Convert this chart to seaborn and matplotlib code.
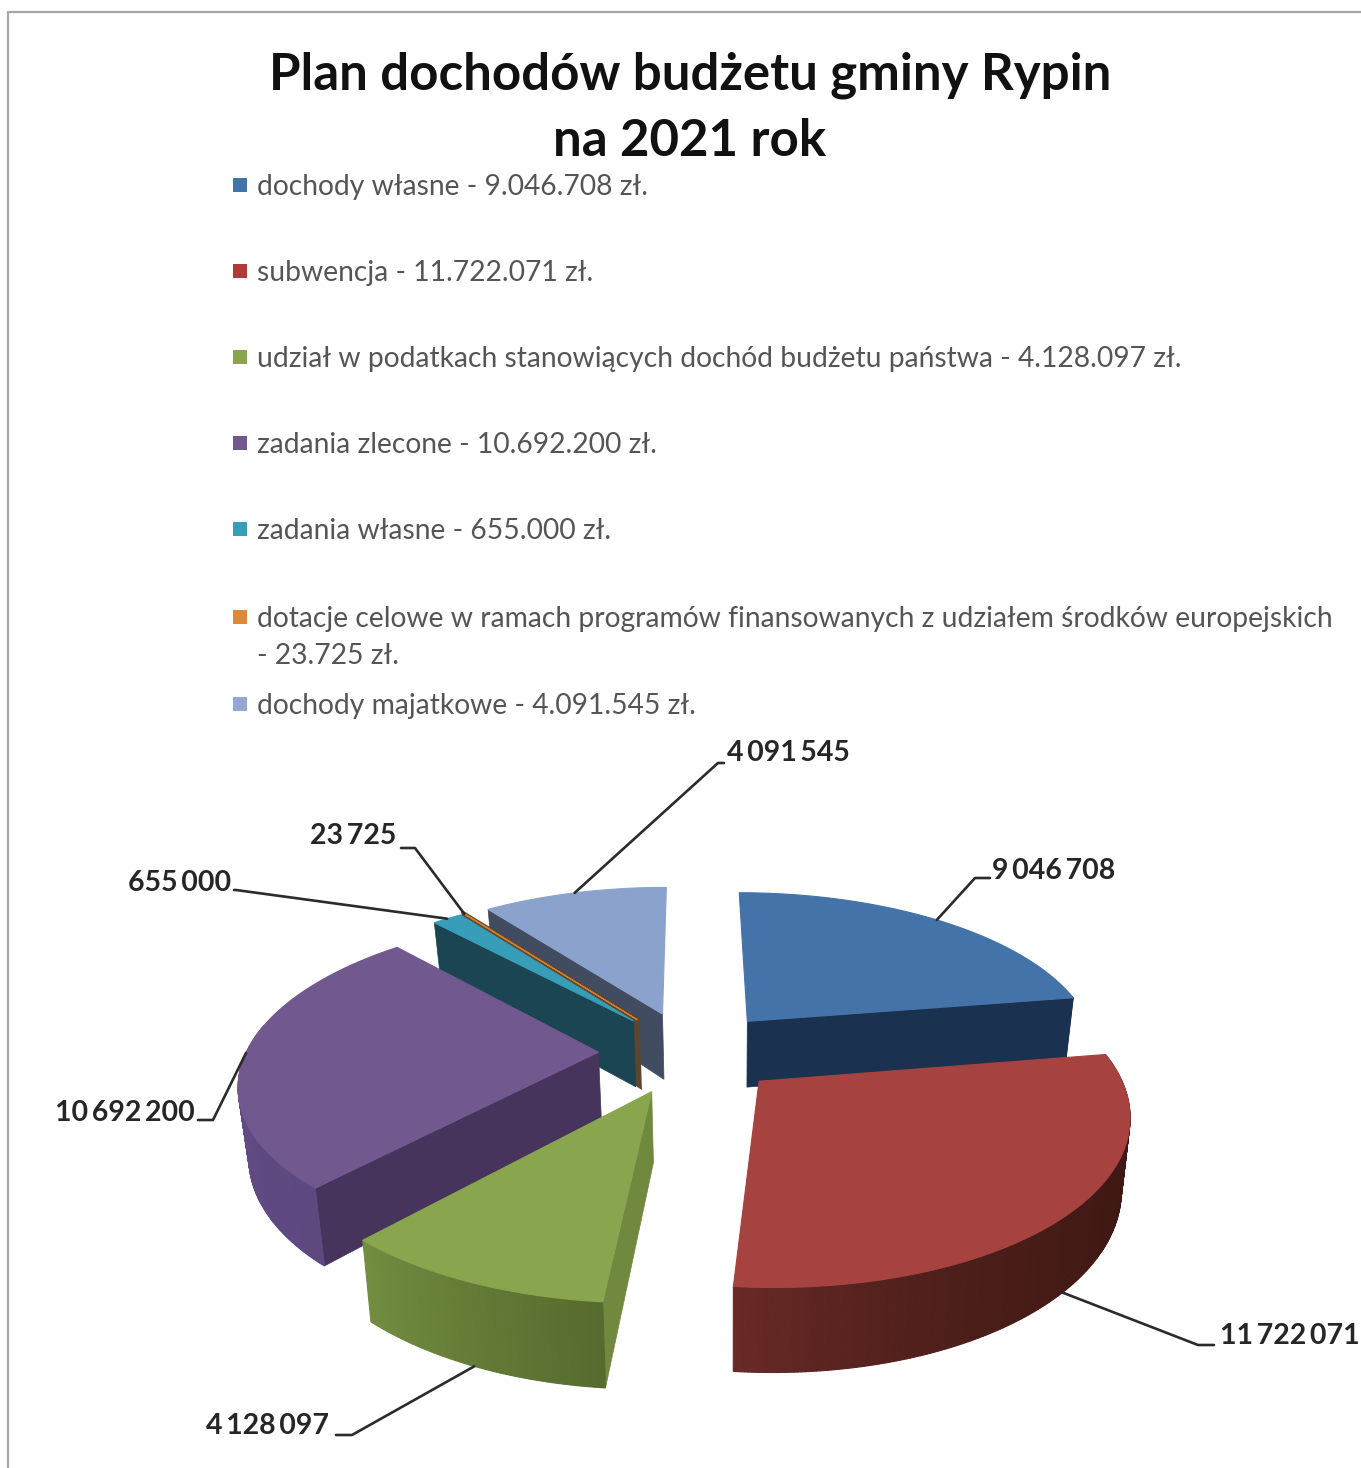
import numpy as np
import pandas as pd
import matplotlib
matplotlib.use("Agg")
import matplotlib.pyplot as plt
import seaborn as sns

# -----------------------------
# DATA
# -----------------------------
title_lines = ["Plan dochodów budżetu gminy Rypin", "na 2021 rok"]
names = [
    "dochody własne",
    "subwencja",
    "udział w podatkach stanowiących dochód budżetu państwa",
    "zadania zlecone",
    "zadania własne",
    "dotacje celowe w ramach programów finansowanych z udziałem środków europejskich",
    "dochody majatkowe",
]
values = [9046708, 11722071, 4128097, 10692200, 655000, 23725, 4091545]

# -----------------------------
# STYLE
# -----------------------------
top_colors = ["#4473a9", "#a64340", "#89a54e", "#71588f", "#379db8", "#d4802a", "#8ba2cc"]
legend_colors = ["#4473a9", "#b03c3a", "#89a54e", "#71588f", "#379db8", "#dc8a3a", "#92a8d2"]
wall_colors = ["#1b3150", "#461a15", "#71893f", "#46345c", "#1b4552", "#5e4530", "#414c61"]
# outer rim shade at start and end of each slice
rim_colors = [
    ("#1b3150", "#1b3150"),
    ("#3f1813", "#682a27"),
    ("#566b2e", "#728c40"),
    ("#5d4880", "#68508c"),
    ("#1b4552", "#1b4552"),
    ("#5e4530", "#5e4530"),
    ("#414c61", "#414c61"),
]
rim_curve = [1, 3, 1, 1, 1, 1, 1]

# back to front
draw_order = [6, 5, 4, 0, 3, 2, 1]

center_x, center_y = 690, 1052
radius_x, radius_y = 352, 160
persp = 0.17
explode = 0.26
depth = 68
vanish_x = 730
vanish = 0.022

# label centre, elbow points of the leader line
label_pos = [(1054, 871), (1290, 1336), (268, 1426), (125, 1113), (180, 883), (353, 836), (788, 753)]
elbows = [
    [(975, 878), (990, 878)],
    [(1198, 1345), (1214, 1345)],
    [(352, 1435), (336, 1435)],
    [(213, 1120), (198, 1120)],
    [(236, 890), (234, 890)],
    [(415, 848), (401, 848)],
    [(718, 763), (724, 763)],
]
leader_on_rim = [False, True, True, False, False, False, False]

sns.set_theme(style="white")
plt.rcParams["font.family"] = ["Lato", "DejaVu Sans"]

fig, ax = plt.subplots(figsize=(13.61, 14.68), dpi=100)
ax.set_position([0, 0, 1, 1])
ax.set_xlim(0, 1361)
ax.set_ylim(1468, 0)
ax.axis("off")


def project(u, v, lift=0.0):
    w = 1 + persp * v
    x = center_x + radius_x * u / w
    y = center_y - radius_y * v / w + lift / w
    if lift:
        x = x + (vanish_x - x) * vanish
    return x, y


# -----------------------------
# PIE SLICES
# -----------------------------
total = sum(values)
shares = np.array(values) / total * 360
ends = np.cumsum(shares)
starts = ends - shares
mids = (starts + ends) / 2

for i in draw_order:
    th = np.radians(np.linspace(starts[i], ends[i], max(int(shares[i]) * 2, 4)))
    m = np.radians(mids[i])
    ox, oy = explode * np.sin(m), explode * np.cos(m)
    us, vs = ox + np.sin(th), oy + np.cos(th)
    ax_, ay_ = project(ox, oy)
    bx_, by_ = project(ox, oy, depth)
    top_x, top_y = project(us, vs)
    low_x, low_y = project(us, vs, depth)

    # radial walls, only the ones that face the viewer
    wall_lw = 3.5 if shares[i] < 1 else 0.5
    if ends[i] <= 180:
        ax.fill([ax_, top_x[-1], low_x[-1], bx_], [ay_, top_y[-1], low_y[-1], by_],
                color=wall_colors[i], lw=wall_lw)
    if starts[i] >= 180:
        ax.fill([ax_, top_x[0], low_x[0], bx_], [ay_, top_y[0], low_y[0], by_],
                color=wall_colors[i], lw=wall_lw)

    # outer rim in small strips so the shade can drift along the arc
    c0 = np.array(matplotlib.colors.to_rgb(rim_colors[i][0]))
    c1 = np.array(matplotlib.colors.to_rgb(rim_colors[i][1]))
    n = len(th) - 1
    for k in range(n):
        if np.cos(th[k]) > 0.17 and np.cos(th[k + 1]) > 0.17:
            continue
        col = c0 + (c1 - c0) * (k / max(n - 1, 1)) ** rim_curve[i]
        ax.fill([top_x[k], top_x[k + 1], low_x[k + 1], low_x[k]],
                [top_y[k], top_y[k + 1], low_y[k + 1], low_y[k]],
                color=col, lw=0.8)

    # top face
    ax.fill(np.r_[ax_, top_x], np.r_[ay_, top_y], color=top_colors[i], lw=0.8)

# -----------------------------
# LEADER LINES + VALUE LABELS
# -----------------------------
for i in range(len(values)):
    m = np.radians(mids[i])
    ox, oy = explode * np.sin(m), explode * np.cos(m)
    lift = depth if leader_on_rim[i] else 0
    sx, sy = project(ox + np.sin(m), oy + np.cos(m), lift)
    xs = [sx] + [p[0] for p in elbows[i]]
    ys = [sy] + [p[1] for p in elbows[i]]
    ax.plot(xs, ys, color="#2b2b2b", lw=1.9, solid_capstyle="round")
    txt = f"{values[i]:,}".replace(",", "\u2009")
    ax.text(label_pos[i][0], label_pos[i][1], txt, ha="center", va="center",
            fontsize=20.5, fontweight="bold", color="#262626")

# -----------------------------
# LEGEND
# -----------------------------
legend_rows = [185, 271, 357, 443, 529, 617, 704]
legend_df = pd.DataFrame({"x": [240] * len(names), "y": legend_rows, "name": names})
sns.scatterplot(data=legend_df, x="x", y="y", hue="name", palette=legend_colors,
                marker="s", s=100, linewidth=0, legend=False, ax=ax)

for i, name in enumerate(names):
    amount = f"{values[i]:,}".replace(",", ".")
    text_y = legend_rows[i] + 2
    if len(name) > 70:
        ax.text(257, text_y, name, va="center", fontsize=20.3, color="#555555")
        ax.text(257, text_y + 37, f"- {amount} zł.", va="center", fontsize=20.3, color="#555555")
    else:
        ax.text(257, text_y, f"{name} - {amount} zł.", va="center", fontsize=20.3, color="#555555")

ax.set_xlim(0, 1361)
ax.set_ylim(1468, 0)
ax.set_xlabel("")
ax.set_ylabel("")

# -----------------------------
# TITLE + FRAME
# -----------------------------
ax.text(690, 75, title_lines[0], ha="center", va="center", fontsize=36.7, fontweight="bold", color="#111111")
ax.text(690, 142, title_lines[1], ha="center", va="center", fontsize=36.7, fontweight="bold", color="#111111")

ax.plot([8, 8, 1361], [1468, 12, 12], color="#a6a6a6", lw=1.6)

plt.savefig("out.png", dpi=100)
